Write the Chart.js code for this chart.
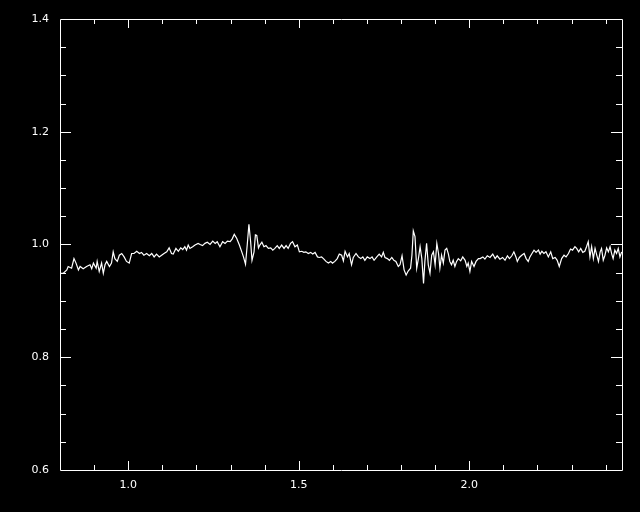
<!DOCTYPE html>
<html>
<head>
<meta charset="utf-8">
<script src="https://cdn.jsdelivr.net/npm/chart.js@4.4.0/dist/chart.umd.min.js"></script>
<style>
  body { margin: 0; background: #000; }
  canvas { display: block; }
</style>
</head>
<body>
<canvas id="specChart" width="640" height="512"></canvas>
<script>
// wavelength (x) and normalised flux (y)
const xValues = [
  0.800, 0.810, 0.820, 0.824, 0.834, 0.841, 0.847, 0.854, 0.859, 0.868, 0.878, 0.888, 0.893, 0.898, 0.906,
  0.909, 0.915, 0.922, 0.927, 0.932, 0.937, 0.945, 0.951, 0.956, 0.961, 0.968, 0.974, 0.981, 0.988, 0.995,
  1.003, 1.010, 1.017, 1.025, 1.033, 1.039, 1.046, 1.054, 1.062, 1.069, 1.076, 1.083, 1.091, 1.098, 1.105,
  1.113, 1.120, 1.127, 1.132, 1.140, 1.147, 1.154, 1.160, 1.166, 1.171, 1.176, 1.181, 1.189, 1.196, 1.205,
  1.211, 1.218, 1.225, 1.232, 1.240, 1.248, 1.255, 1.261, 1.269, 1.277, 1.284, 1.291, 1.299, 1.305, 1.311,
  1.318, 1.326, 1.333, 1.338, 1.344, 1.349, 1.354, 1.359, 1.363, 1.369, 1.373, 1.377, 1.382, 1.386, 1.392,
  1.398, 1.404, 1.411, 1.418, 1.424, 1.430, 1.437, 1.443, 1.450, 1.457, 1.463, 1.469, 1.476, 1.482, 1.489,
  1.496, 1.502, 1.509, 1.515, 1.521, 1.528, 1.535, 1.541, 1.548, 1.555, 1.560, 1.567, 1.574, 1.580, 1.587,
  1.594, 1.599, 1.606, 1.613, 1.619, 1.626, 1.631, 1.636, 1.643, 1.648, 1.655, 1.660, 1.668, 1.675, 1.682,
  1.688, 1.694, 1.701, 1.709, 1.715, 1.721, 1.729, 1.736, 1.743, 1.748, 1.753, 1.760, 1.766, 1.773, 1.779,
  1.785, 1.792, 1.797, 1.803, 1.809, 1.815, 1.821, 1.828, 1.832, 1.836, 1.841, 1.846, 1.851, 1.856, 1.861,
  1.866, 1.870, 1.875, 1.880, 1.885, 1.890, 1.895, 1.900, 1.905, 1.910, 1.914, 1.919, 1.924, 1.929, 1.934,
  1.939, 1.943, 1.948, 1.953, 1.958, 1.963, 1.968, 1.975, 1.981, 1.988, 1.993, 1.997, 2.002, 2.007, 2.014,
  2.020, 2.027, 2.032, 2.040, 2.046, 2.053, 2.061, 2.069, 2.076, 2.082, 2.090, 2.098, 2.105, 2.112, 2.118,
  2.125, 2.131, 2.137, 2.141, 2.147, 2.154, 2.161, 2.167, 2.173, 2.178, 2.184, 2.190, 2.196, 2.203, 2.208,
  2.213, 2.219, 2.225, 2.232, 2.239, 2.245, 2.252, 2.258, 2.264, 2.271, 2.278, 2.284, 2.291, 2.297, 2.303,
  2.310, 2.315, 2.321, 2.327, 2.333, 2.339, 2.344, 2.349, 2.354, 2.359, 2.364, 2.369, 2.374, 2.379, 2.384,
  2.388, 2.393, 2.398, 2.403, 2.408, 2.413, 2.418, 2.422, 2.427, 2.432, 2.437, 2.442, 2.447
];
const fluxValues = [
  0.949, 0.949, 0.955, 0.961, 0.958, 0.975, 0.967, 0.955, 0.961, 0.957, 0.961, 0.964, 0.957, 0.967, 0.958,
  0.970, 0.952, 0.967, 0.949, 0.964, 0.970, 0.961, 0.967, 0.987, 0.975, 0.970, 0.981, 0.984, 0.978, 0.970,
  0.967, 0.984, 0.984, 0.988, 0.984, 0.986, 0.981, 0.984, 0.980, 0.984, 0.978, 0.983, 0.978, 0.981, 0.984,
  0.987, 0.994, 0.984, 0.983, 0.993, 0.988, 0.994, 0.991, 0.996, 0.990, 0.999, 0.993, 0.996, 0.999, 1.002,
  1.000, 0.998, 1.002, 1.004, 1.000, 1.006, 1.002, 1.005, 0.996, 1.005, 1.002, 1.006, 1.005, 1.010, 1.018,
  1.011, 0.999, 0.987, 0.978, 0.965, 0.999, 1.036, 1.005, 0.972, 0.987, 1.017, 1.016, 0.994, 0.999, 1.004,
  0.996, 0.998, 0.993, 0.994, 0.990, 0.993, 0.998, 0.993, 0.999, 0.993, 0.998, 0.993, 1.002, 1.005, 0.996,
  0.999, 0.987, 0.988, 0.986, 0.987, 0.984, 0.986, 0.983, 0.986, 0.978, 0.977, 0.978, 0.974, 0.970, 0.967,
  0.970, 0.967, 0.970, 0.975, 0.983, 0.981, 0.971, 0.988, 0.978, 0.984, 0.964, 0.977, 0.984, 0.978, 0.975,
  0.978, 0.972, 0.978, 0.975, 0.978, 0.972, 0.978, 0.983, 0.978, 0.986, 0.977, 0.975, 0.972, 0.977, 0.972,
  0.970, 0.961, 0.964, 0.980, 0.955, 0.946, 0.953, 0.958, 0.981, 1.024, 1.014, 0.958, 0.975, 0.996, 0.975,
  0.931, 0.970, 1.002, 0.964, 0.949, 0.981, 0.987, 0.964, 1.002, 0.984, 0.958, 0.981, 0.967, 0.990, 0.993,
  0.983, 0.970, 0.964, 0.972, 0.961, 0.970, 0.975, 0.971, 0.978, 0.972, 0.961, 0.967, 0.952, 0.970, 0.961,
  0.970, 0.975, 0.975, 0.978, 0.974, 0.980, 0.977, 0.983, 0.975, 0.980, 0.974, 0.977, 0.972, 0.980, 0.975,
  0.980, 0.987, 0.978, 0.970, 0.977, 0.981, 0.984, 0.975, 0.970, 0.978, 0.984, 0.990, 0.986, 0.990, 0.983,
  0.988, 0.984, 0.987, 0.978, 0.987, 0.975, 0.977, 0.972, 0.961, 0.975, 0.981, 0.978, 0.984, 0.992, 0.990,
  0.996, 0.993, 0.987, 0.993, 0.986, 0.988, 0.996, 1.005, 0.978, 0.996, 0.975, 0.993, 0.981, 0.970, 0.987,
  0.993, 0.972, 0.981, 0.994, 0.987, 0.996, 0.983, 0.975, 0.990, 0.984, 0.993, 0.978, 0.987
];

// axis ranges and ticks
const xRange = [0.8, 2.448];
const yRange = [0.6, 1.4];
const xTickValues = [1.0, 1.5, 2.0];
const yTickValues = [0.6, 0.8, 1.0, 1.2, 1.4];
const xMinorStep = 0.1;
const yMinorStep = 0.05;

// IDL-style frame: box + inward ticks on all four sides
const framePlugin = {
  id: 'frame',
  beforeDraw(chart) {
    const c = chart.ctx;
    c.save();
    c.fillStyle = '#000';
    c.fillRect(0, 0, chart.width, chart.height);
    c.restore();
  },
  afterDraw(chart) {
    const c = chart.ctx;
    const a = chart.chartArea;
    const xs = chart.scales.x;
    const ys = chart.scales.y;
    c.save();
    c.strokeStyle = '#fff';
    c.lineWidth = 1;
    c.beginPath();
    c.rect(Math.round(a.left) + 0.5, Math.round(a.top) + 0.5,
           Math.round(a.right - a.left), Math.round(a.bottom - a.top));

    // x ticks (bottom and top)
    const nx = Math.round((xRange[1] - xRange[0]) / xMinorStep);
    for (let i = 0; i <= nx; i++) {
      const v = +(xRange[0] + i * xMinorStep).toFixed(3);
      if (v <= xRange[0] || v >= xRange[1]) continue;
      const major = Math.abs(v * 2 - Math.round(v * 2)) < 1e-6;
      const len = major ? 9 : 5;
      const px = Math.round(xs.getPixelForValue(v)) + 0.5;
      c.moveTo(px, a.bottom); c.lineTo(px, a.bottom - len);
      c.moveTo(px, a.top); c.lineTo(px, a.top + len);
    }
    // y ticks (left and right)
    const ny = Math.round((yRange[1] - yRange[0]) / yMinorStep);
    for (let i = 1; i < ny; i++) {
      const v = +(yRange[0] + i * yMinorStep).toFixed(3);
      const major = Math.abs(v * 5 - Math.round(v * 5)) < 1e-6;
      const len = major ? 11 : 6;
      const py = Math.round(ys.getPixelForValue(v)) + 0.5;
      c.moveTo(a.left, py); c.lineTo(a.left + len, py);
      c.moveTo(a.right, py); c.lineTo(a.right - len, py);
    }
    c.stroke();
    c.restore();
  }
};

const ctx = document.getElementById('specChart').getContext('2d');

new Chart(ctx, {
  type: 'line',
  data: {
    datasets: [{
      data: xValues.map((x, i) => ({ x: x, y: fluxValues[i] })),
      borderColor: '#fff',
      borderWidth: 1.2,
      pointRadius: 0,
      tension: 0,
      fill: false
    }]
  },
  options: {
    responsive: false,
    animation: false,
    layout: { padding: { top: 19, right: 18, left: 0, bottom: 0 } },
    plugins: {
      legend: { display: false },
      tooltip: { enabled: false }
    },
    scales: {
      x: {
        type: 'linear',
        min: xRange[0],
        max: xRange[1],
        grid: { display: false },
        border: { display: false },
        afterBuildTicks: (axis) => { axis.ticks = xTickValues.map(v => ({ value: v })); },
        afterFit: (axis) => { axis.height = 42; },
        ticks: {
          color: '#fff',
          padding: 1,
          font: { family: 'DejaVu Sans', size: 11 },
          callback: (v) => v.toFixed(1)
        }
      },
      y: {
        min: yRange[0],
        max: yRange[1],
        grid: { display: false },
        border: { display: false },
        afterBuildTicks: (axis) => { axis.ticks = yTickValues.map(v => ({ value: v })); },
        afterFit: (axis) => { axis.width = 60; },
        ticks: {
          color: '#fff',
          padding: 3,
          font: { family: 'DejaVu Sans', size: 11 },
          callback: (v) => v.toFixed(1)
        }
      }
    }
  },
  plugins: [framePlugin]
});
</script>
</body>
</html>
